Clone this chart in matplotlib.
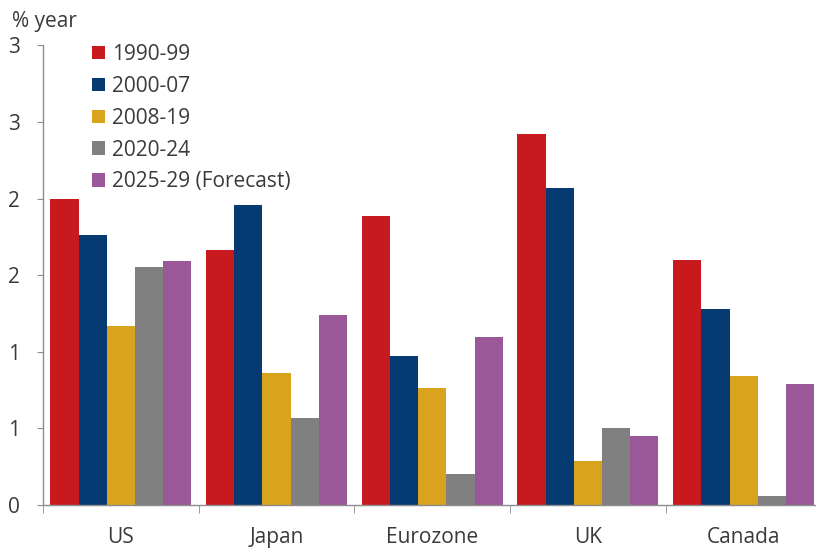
import matplotlib
matplotlib.use("Agg")
import matplotlib.pyplot as plt
from matplotlib.patches import Patch
import numpy as np

plt.rcParams['font.family'] = ['Open Sans', 'DejaVu Sans']

regions = ["US", "Japan", "Eurozone", "UK", "Canada"]
series_names = ["1990-99", "2000-07", "2008-19", "2020-24", "2025-29 (Forecast)"]
s1990_99 = [2.00, 1.665, 1.89, 2.42, 1.60]
s2000_07 = [1.76, 1.96, 0.97, 2.07, 1.28]
s2008_19 = [1.17, 0.86, 0.765, 0.29, 0.84]
s2020_24 = [1.555, 0.57, 0.20, 0.50, 0.06]
s2025_29 = [1.595, 1.24, 1.10, 0.45, 0.79]
series = [s1990_99, s2000_07, s2008_19, s2020_24, s2025_29]
colors = ["#c8191f", "#063a72", "#d9a31e", "#808080", "#9b5898"]
ytick_vals = [0, 0.5, 1.0, 1.5, 2.0, 2.5, 3.0]
ytick_labels = ["0", "1", "1", "2", "2", "3", "3"]

W, H = 816, 548
fig = plt.figure(figsize=(W / 100, H / 100), dpi=100)
left, right, bottom, top = 43, 821.5, 505, 45.5
ax = fig.add_axes([left / W, 1 - bottom / H, (right - left) / W, (bottom - top) / H])

x = np.arange(len(regions))
bw = 0.181
n = len(series)
for i, (vals, c, name) in enumerate(zip(series, colors, series_names)):
    ax.bar(x + (i - (n - 1) / 2) * bw, vals, width=bw, color=c, label=name, linewidth=0)

ax.set_xlim(-0.5, len(regions) - 0.5)
ax.set_ylim(0, 3)
ax.set_yticks(ytick_vals)
ax.set_yticklabels(ytick_labels)
ax.set_xticks(x)
ax.set_xticklabels(regions)
ax.set_xticks(np.arange(len(regions) + 1) - 0.5, minor=True)

gray = "#8c8c8c"
txt = "#3a3a3a"
fs = 15
for s in ["top", "right"]:
    ax.spines[s].set_visible(False)
for s in ["left", "bottom"]:
    ax.spines[s].set_color(gray)
    ax.spines[s].set_linewidth(1.0)
ax.tick_params(axis='y', length=4.3, color=gray, labelcolor=txt, labelsize=fs, pad=12.5)
ax.tick_params(axis='x', which='major', length=0, labelcolor=txt, labelsize=fs, pad=16)
ax.tick_params(axis='x', which='minor', length=6, color=gray)

fig.text(12 / W, 1 - 21 / H, "% year", fontsize=fs, color=txt, va='center', ha='left')

handles = [Patch(facecolor=c, edgecolor='none') for c in colors]
leg = ax.legend(handles, series_names, loc='upper left', bbox_to_anchor=(92 / W, 1 - 44 / H),
                bbox_transform=fig.transFigure, frameon=False, fontsize=fs,
                handlelength=0.62, handleheight=0.62, handletextpad=0.33,
                labelspacing=0.52, borderaxespad=0, borderpad=0)
for t in leg.get_texts():
    t.set_color(txt)

fig.savefig("out.png", dpi=100)
